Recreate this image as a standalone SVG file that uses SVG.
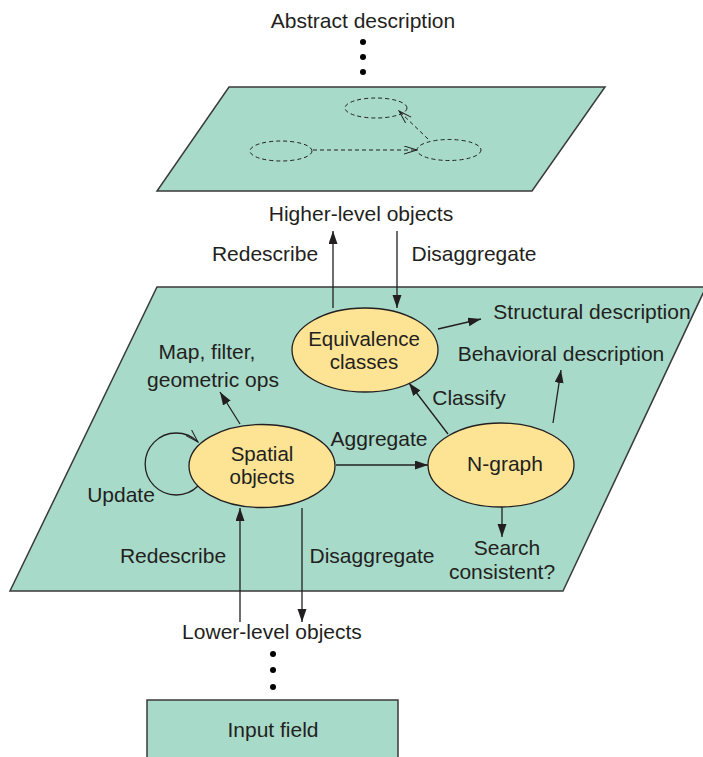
<svg xmlns="http://www.w3.org/2000/svg" width="703" height="757" viewBox="0 0 703 757">
<style>
text{font-family:"Liberation Sans",Arial,Helvetica,sans-serif;font-size:21px;fill:#231f20;text-anchor:middle}
.two{font-size:20.5px}
.plane{fill:#a7dac9;stroke:#3a3a3a;stroke-width:1.5}
.node{fill:#fde394;stroke:#231f20;stroke-width:1.3}
.dnode{fill:none;stroke:#231f20;stroke-width:1;stroke-dasharray:4 3}
.c{fill:none;stroke:#231f20;stroke-width:1.3}
.dc{fill:none;stroke:#231f20;stroke-width:1;stroke-dasharray:4 3}
.dot{fill:#000}
</style>
<defs>
<marker id="ah" markerUnits="userSpaceOnUse" markerWidth="14" markerHeight="10" refX="13" refY="4.5" orient="auto"><path d="M0,0 L13,4.5 L0,9 Z" fill="#231f20"/></marker>
<marker id="oh" markerUnits="userSpaceOnUse" markerWidth="14" markerHeight="10" refX="13" refY="4.5" orient="auto"><path d="M0,0.5 L13,4.5 L0,8.5" fill="none" stroke="#231f20" stroke-width="1"/></marker>
</defs>

<g id="top-plane">
<polygon class="plane" points="229,87 605,87 532,191 157,191"/>
</g>
<g id="mid-plane">
<polygon class="plane" points="157,287 706,287 563,591 10,591"/>
</g>
<g id="input-field">
<rect class="plane" x="147" y="700" width="251" height="70"/>
<text x="273" y="737">Input field</text>
</g>

<g id="abstract">
<text x="363" y="28">Abstract description</text>
<circle class="dot" cx="363" cy="42" r="3"/>
<circle class="dot" cx="363" cy="57" r="3"/>
<circle class="dot" cx="363" cy="72" r="3"/>
</g>
<g id="hl-a"><ellipse class="dnode" cx="376" cy="108" rx="31" ry="10"/></g>
<g id="hl-b"><ellipse class="dnode" cx="281" cy="151" rx="31" ry="10"/></g>
<g id="hl-c"><ellipse class="dnode" cx="449" cy="150" rx="32" ry="10.5"/></g>
<g id="higher-label"><text x="361" y="221">Higher-level objects</text></g>

<g id="equivalence">
<ellipse class="node" cx="365" cy="350" rx="73" ry="42"/>
<text class="two" x="364" y="346">Equivalence</text>
<text class="two" x="364" y="369">classes</text>
</g>
<g id="spatial">
<ellipse class="node" cx="262" cy="466" rx="73" ry="41.5"/>
<text class="two" x="262" y="461">Spatial</text>
<text class="two" x="262" y="484">objects</text>
</g>
<g id="ngraph">
<ellipse class="node" cx="501" cy="465" rx="73" ry="42"/>
<text x="505" y="471">N-graph</text>
</g>
<g id="structural"><text x="592" y="319">Structural description</text></g>
<g id="behavioral"><text x="561" y="361">Behavioral description</text></g>
<g id="mapfilter">
<text x="207" y="359">Map, filter,</text>
<text x="213" y="387">geometric ops</text>
</g>
<g id="search">
<text x="507" y="555">Search</text>
<text x="502" y="579">consistent?</text>
</g>
<g id="lower">
<text x="272" y="639">Lower-level objects</text>
<circle class="dot" cx="273" cy="654" r="3"/>
<circle class="dot" cx="273" cy="670" r="3"/>
<circle class="dot" cx="273" cy="687" r="3"/>
</g>

<g id="connectors">
<line class="dc" x1="313" y1="150" x2="417" y2="150" marker-end="url(#oh)"/>
<line class="dc" x1="428" y1="139" x2="399" y2="111" marker-end="url(#oh)"/>
<line class="c" x1="333" y1="308" x2="333" y2="231" marker-end="url(#ah)"/>
<line class="c" x1="397" y1="231" x2="397" y2="308" marker-end="url(#ah)"/>
<line class="c" x1="438" y1="329" x2="481" y2="319" marker-end="url(#ah)"/>
<line class="c" x1="553" y1="423" x2="561" y2="370" marker-end="url(#ah)"/>
<line class="c" x1="448" y1="434" x2="409" y2="383" marker-end="url(#ah)"/>
<line class="c" x1="336" y1="465" x2="428" y2="465" marker-end="url(#ah)"/>
<line class="c" x1="502" y1="507" x2="502" y2="537" marker-end="url(#ah)"/>
<line class="c" x1="240" y1="424" x2="220" y2="392" marker-end="url(#ah)"/>
<path class="c" d="M198,486 A31,31 0 1 1 198,442" marker-end="url(#oh)"/>
<line class="c" x1="240" y1="622" x2="240" y2="508" marker-end="url(#ah)"/>
<line class="c" x1="302" y1="508" x2="302" y2="622" marker-end="url(#ah)"/>
<text x="265" y="261">Redescribe</text>
<text x="474" y="261">Disaggregate</text>
<text x="469" y="405">Classify</text>
<text x="379" y="446">Aggregate</text>
<text x="121" y="502">Update</text>
<text x="173" y="563">Redescribe</text>
<text x="372" y="563">Disaggregate</text>
</g>
</svg>
